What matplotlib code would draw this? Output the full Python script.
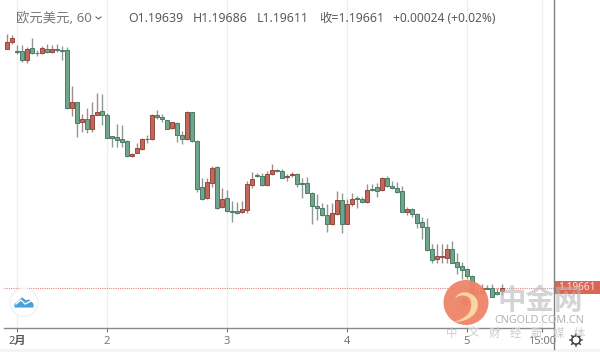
import numpy as np
import matplotlib
matplotlib.use("Agg")
import matplotlib.pyplot as plt
from matplotlib.patches import Circle, Rectangle, PathPatch, Polygon
from matplotlib.path import Path

plt.rcParams['font.family'] = ['Noto Sans', 'Noto Sans CJK SC', 'DejaVu Sans']

body_top = [1.21300,1.21325,1.21240,1.21240,1.21249,1.21256,1.21227,1.21256,1.21249,1.21254,
1.21254,1.21245,1.21245,1.20900,1.20900,1.20785,1.20785,1.20811,1.20834,1.20840,
1.20814,1.20669,1.20667,1.20651,1.20640,1.20551,1.20589,1.20651,1.20654,1.20814,
1.20811,1.20800,1.20778,1.20762,1.20758,1.20678,1.20834,1.20831,1.20638,1.20331,
1.20363,1.20460,1.20467,1.20251,1.20260,1.20173,1.20169,1.20185,1.20351,1.20387,
1.20411,1.20407,1.20418,1.20445,1.20445,1.20440,1.20407,1.20418,1.20418,1.20358,
1.20356,1.20291,1.20207,1.20189,1.20147,1.20156,1.20245,1.20245,1.20218,1.20251,
1.20256,1.20251,1.20311,1.20318,1.20333,1.20391,1.20389,1.20340,1.20327,1.20307,
1.20187,1.20185,1.20151,1.20096,1.20065,1.19920,1.19869,1.19869,1.19918,1.19918,
1.19829,1.19807,1.19783,1.19736,1.19627,1.19658,1.19658,1.19658,1.19633,1.19661]
body_bottom = [1.21254,1.21298,1.21229,1.21180,1.21180,1.21225,1.21222,1.21225,1.21234,1.21231,
1.21247,1.21240,1.20856,1.20856,1.20760,1.20765,1.20720,1.20720,1.20814,1.20809,
1.20660,1.20660,1.20642,1.20634,1.20538,1.20540,1.20560,1.20582,1.20649,1.20649,
1.20800,1.20782,1.20720,1.20722,1.20678,1.20654,1.20649,1.20638,1.20318,1.20251,
1.20256,1.20360,1.20191,1.20196,1.20173,1.20167,1.20160,1.20165,1.20180,1.20345,
1.20407,1.20343,1.20343,1.20416,1.20440,1.20393,1.20398,1.20411,1.20353,1.20353,
1.20293,1.20203,1.20191,1.20145,1.20087,1.20087,1.20153,1.20087,1.20087,1.20216,
1.20251,1.20231,1.20231,1.20311,1.20305,1.20309,1.20340,1.20323,1.20300,1.20167,
1.20167,1.20153,1.20093,1.20067,1.19911,1.19845,1.19849,1.19865,1.19860,1.19827,
1.19800,1.19778,1.19736,1.19605,1.19623,1.19623,1.19653,1.19600,1.19616,1.19639]
highs = [1.21349,1.21345,1.21278,1.21278,1.21267,1.21327,1.21245,1.21271,1.21285,1.21278,
1.21285,1.21271,1.21267,1.21005,1.20900,1.20818,1.20856,1.20900,1.20956,1.20949,
1.20827,1.20671,1.20751,1.20745,1.20645,1.20556,1.20622,1.20656,1.20678,1.20818,
1.20845,1.20818,1.20778,1.20767,1.20762,1.20707,1.20838,1.20834,1.20645,1.20391,
1.20391,1.20473,1.20471,1.20323,1.20311,1.20240,1.20231,1.20240,1.20373,1.20433,
1.20427,1.20423,1.20440,1.20483,1.20453,1.20451,1.20416,1.20431,1.20423,1.20393,
1.20400,1.20296,1.20285,1.20227,1.20218,1.20223,1.20307,1.20289,1.20249,1.20289,
1.20271,1.20267,1.20349,1.20349,1.20360,1.20400,1.20405,1.20371,1.20367,1.20338,
1.20200,1.20193,1.20156,1.20133,1.20127,1.19951,1.19949,1.19953,1.19951,1.19971,
1.19889,1.19831,1.19793,1.19743,1.19660,1.19683,1.19676,1.19683,1.19660,1.19686]
lows = [1.21254,1.21285,1.21218,1.21167,1.21160,1.21218,1.21207,1.21218,1.21227,1.21222,
1.21234,1.21178,1.20854,1.20805,1.20662,1.20700,1.20694,1.20696,1.20811,1.20745,
1.20656,1.20596,1.20600,1.20600,1.20534,1.20534,1.20556,1.20578,1.20622,1.20645,
1.20787,1.20767,1.20716,1.20716,1.20634,1.20618,1.20645,1.20634,1.20298,1.20245,
1.20251,1.20329,1.20187,1.20191,1.20167,1.20098,1.20151,1.20156,1.20156,1.20323,
1.20400,1.20338,1.20338,1.20411,1.20433,1.20389,1.20373,1.20396,1.20329,1.20256,
1.20289,1.20085,1.20111,1.20138,1.20033,1.20076,1.20147,1.20027,1.20083,1.20207,
1.20191,1.20227,1.20227,1.20305,1.20267,1.20305,1.20333,1.20316,1.20289,1.20165,
1.20143,1.20133,1.20058,1.19983,1.19905,1.19827,1.19823,1.19827,1.19823,1.19823,
1.19749,1.19716,1.19716,1.19587,1.19593,1.19616,1.19649,1.19596,1.19609,1.19611]
directions = ("RRGGRGGRGRGGGRGRGRRGGGGGGRRRRRGGGRGGRGGGRRGRGGGRRRGGRRGGRRGGGGGGGRRGRRGGRGGRGGGGRGGGGGRRRGGGGGGRGGGR")
tick_positions = [2, 20, 44, 68, 92, 107]
tick_labels = ["2月", "2", "3", "4", "5", "15:00"]
symbol_label = "欧元美元, 60"
change_label = "+0.00024 (+0.02%)"

body_top = np.array(body_top); body_bottom = np.array(body_bottom)
highs = np.array(highs); lows = np.array(lows)
x = np.arange(len(body_top))
is_up = np.array([d == "R" for d in directions])

fig = plt.figure(figsize=(6, 3.52), dpi=100, facecolor="white")
W, H = 600.0, 352.0
ax = fig.add_axes([4/W, (H-328)/H, (553.5-4)/W, 328/H])
ax.set_xlim(-0.54, 109.36)
ax.set_ylim(1.19391, 1.21578)
for s in ("top", "left", "right"):
    ax.spines[s].set_visible(False)
ax.spines["bottom"].set_color("#8a8a8a")
ax.spines["bottom"].set_linewidth(1.0)
ax.set_yticks([])
ax.set_xticks(tick_positions)
ax.set_xticklabels(tick_labels, fontsize=8, color="#777777")
ax.tick_params(axis="x", length=3, width=0.8, color="#777777", pad=3)
ax.get_xticklabels()[0].set_color("#555555")
ax.get_xticklabels()[0].set_fontweight("bold")
ax.grid(axis="x", color="#eeeeee", lw=0.9)
ax.set_axisbelow(True)

GREEN, GREEN_E = "#6fa58b", "#4c7b66"
RED, RED_E = "#c4665a", "#94483e"
WICK_G, WICK_R = "#8b9b93", "#a08c88"
ax.vlines(x[~is_up], lows[~is_up], highs[~is_up], color=WICK_G, lw=1.0, zorder=2)
ax.vlines(x[is_up], lows[is_up], highs[is_up], color=WICK_R, lw=1.0, zorder=2)
ax.bar(x[~is_up], (body_top-body_bottom)[~is_up], bottom=body_bottom[~is_up], width=0.72,
       color=GREEN, edgecolor=GREEN_E, linewidth=0.7, zorder=3)
ax.bar(x[is_up], (body_top-body_bottom)[is_up], bottom=body_bottom[is_up], width=0.72,
       color=RED, edgecolor=RED_E, linewidth=0.7, zorder=3)
last_close = body_top[-1]
ax.axhline(last_close, color="#d98a85", lw=0.8, ls=(0, (1, 1)), zorder=1)

# overlay in figure pixels for chrome and watermark
ov = fig.add_axes([0, 0, 1, 1], facecolor="none", zorder=5)
ov.set_xlim(0, W); ov.set_ylim(H, 0); ov.axis("off")
ov.add_patch(Rectangle((0, 349), W, 3, fc="#f4f4f4", ec="none"))
ov.plot([553.5, 553.5], [0, 349], color="#808080", lw=1.0)
ov.text(16, 18.5, symbol_label, fontsize=9.6, color="#777777", va="center", ha="left")
ov.plot([96, 98.5, 101], [17, 19, 17], color="#666666", lw=0.8)
tc = "#5a5a5a"
ov.text(128, 18.5, f"O{body_bottom[-1]:.5f}", fontsize=8.9, color=tc, va="center")
ov.text(193, 18.5, f"H{highs[-1]:.5f}", fontsize=8.9, color=tc, va="center")
ov.text(257, 18.5, f"L{lows[-1]:.5f}", fontsize=8.9, color=tc, va="center")
ov.text(319, 18.5, f"收={last_close:.5f}", fontsize=8.9, color=tc, va="center")
ov.text(393, 18.5, change_label, fontsize=8.6, color=tc, va="center")

# price tag
ov.add_patch(Rectangle((553.5, 281), 46.5, 13, fc="#dd6555", ec="none"))
ov.text(577, 287.7, f"{last_close:.5f}", fontsize=7.2, color="#f6e3df", va="center", ha="center", fontweight="bold")

# left logo
ov.add_patch(Circle((24, 302.5), 14, fc="white", ec="#eef2f5", lw=1))
ov.add_patch(Polygon([(15, 307), (15, 304), (18, 302), (22, 298), (26, 301), (29, 300), (33, 304), (33, 307)],
                     closed=True, fc="#45a3d8", ec="#45a3d8", lw=0.8, joinstyle="round"))
ov.plot([16, 21, 25, 31], [304, 300, 304, 301], color="white", lw=1.0)

# watermark
ov.add_patch(Circle((466, 302.5), 22.5, fc="#ee8467", ec="none", alpha=0.95))
swirl = Path([(455, 299), (459, 293), (471, 295), (471, 302), (473, 314), (463, 319), (454, 322),
              (470, 322), (481, 312), (477, 300), (473, 291), (458, 289), (455, 299)],
             [Path.MOVETO, Path.CURVE4, Path.CURVE4, Path.CURVE4, Path.CURVE4, Path.CURVE4, Path.CURVE4,
              Path.CURVE4, Path.CURVE4, Path.CURVE4, Path.CURVE4, Path.CURVE4, Path.CURVE4])
ov.add_patch(PathPatch(swirl, fc="#f8dca4", ec="none", alpha=0.95))
ov.add_patch(Circle((465, 302), 4, fc="#ee8467", ec="none"))
ov.text(540, 301, "中金网", fontsize=20.5, color="#b8b8b8", alpha=0.6, va="center", ha="center", fontweight="bold")
ov.text(539.5, 320.5, "CNGOLD.COM.CN", fontsize=7.8, color="#b4b4b4", va="center", ha="center")
for cx, ch in zip(np.linspace(452, 579, 7), "中文财经新媒体"):
    ov.text(cx, 334, ch, fontsize=8.2, color="#cccccc", va="center", ha="center")

# gear
ov.add_patch(Circle((576, 340), 4.2, fc="white", ec="#444444", lw=1.1))
for a in np.deg2rad(np.arange(0, 360, 45)):
    ov.plot([576+4.2*np.cos(a), 576+6*np.cos(a)], [340+4.2*np.sin(a), 340+6*np.sin(a)], color="#444444", lw=1.1)

fig.savefig("out.png", dpi=100)
